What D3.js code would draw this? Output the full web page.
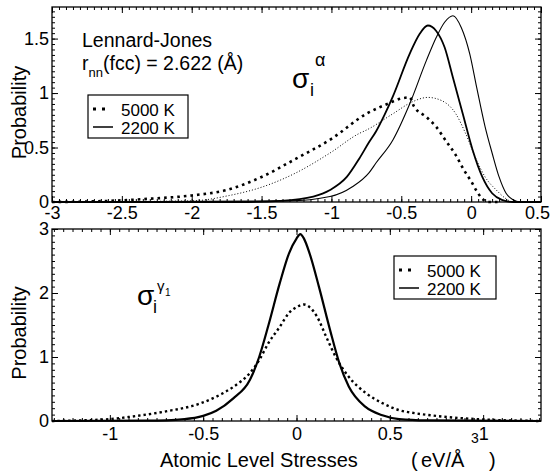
<!DOCTYPE html>
<html>
<head>
<meta charset="utf-8">
<script src="https://cdn.jsdelivr.net/npm/d3@7"></script>
<style>
  body { margin: 0; background: #fff; }
</style>
</head>
<body>
<div id="chart"></div>
<script>
// ---- data ----
// top panel: sigma_i^alpha
const alphaX5000a = [-3, -2.6, -2.3, -2.0, -1.75, -1.5, -1.25, -1.0, -0.75, -0.6, -0.5, -0.44, -0.41, -0.32, -0.25, -0.18, -0.11, -0.05, 0.0, 0.04, 0.08, 0.12, 0.2];
const alphaY5000a = [0, 0.01, 0.03, 0.06, 0.11, 0.23, 0.40, 0.58, 0.81, 0.90, 0.95, 0.96, 0.88, 0.78, 0.69, 0.56, 0.43, 0.29, 0.19, 0.10, 0.03, 0, 0];
const alphaX5000b = [-3, -2.0, -1.73, -1.49, -1.25, -1.01, -0.8, -0.75, -0.56, -0.42, -0.31, -0.21, -0.11, -0.04, 0.03, 0.10, 0.18, 0.25, 0.3, 0.5];
const alphaY5000b = [0, 0.01, 0.06, 0.14, 0.27, 0.45, 0.63, 0.66, 0.81, 0.92, 0.96, 0.93, 0.81, 0.63, 0.41, 0.23, 0.11, 0.03, 0, 0];
const alphaX2200a = [-3, -1.6, -1.37, -1.13, -1.01, -0.89, -0.8, -0.73, -0.68, -0.62, -0.56, -0.44, -0.37, -0.31, -0.25, -0.19, -0.13, -0.06, 0.01, 0.08, 0.15, 0.22, 0.3, 0.5];
const alphaY2200a = [0, 0, 0.01, 0.05, 0.11, 0.23, 0.40, 0.55, 0.65, 0.80, 0.97, 1.36, 1.54, 1.62, 1.57, 1.42, 1.14, 0.81, 0.48, 0.23, 0.08, 0.02, 0, 0];
const alphaX2200b = [-3, -1.3, -1.01, -0.85, -0.73, -0.68, -0.56, -0.44, -0.32, -0.25, -0.19, -0.13, -0.07, -0.01, 0.04, 0.10, 0.15, 0.20, 0.25, 0.30, 0.35, 0.5];
const alphaY2200b = [0, 0.01, 0.05, 0.14, 0.27, 0.36, 0.57, 0.9, 1.30, 1.51, 1.65, 1.71, 1.60, 1.36, 1.05, 0.69, 0.45, 0.23, 0.08, 0.02, 0, 0];

// bottom panel: sigma_i^gamma1
const gammaX5000 = [-1.31, -1.0, -0.88, -0.7, -0.52, -0.43, -0.34, -0.25, -0.2, -0.15, -0.09, -0.04, 0.0, 0.04, 0.07, 0.11, 0.16, 0.21, 0.28, 0.37, 0.46, 0.55, 0.64, 0.78, 0.96, 1.31];
const gammaY5000 = [0, 0.03, 0.07, 0.15, 0.27, 0.38, 0.53, 0.75, 0.95, 1.22, 1.47, 1.69, 1.78, 1.82, 1.78, 1.63, 1.31, 1.0, 0.69, 0.44, 0.28, 0.17, 0.12, 0.07, 0.03, 0];
const gammaX2200 = [-1.31, -0.8, -0.6, -0.5, -0.43, -0.34, -0.25, -0.2, -0.15, -0.09, -0.04, 0.0, 0.02, 0.04, 0.07, 0.12, 0.18, 0.23, 0.28, 0.37, 0.46, 0.55, 0.7, 1.31];
const gammaY2200 = [0, 0.005, 0.03, 0.08, 0.16, 0.35, 0.64, 1.0, 1.5, 2.15, 2.62, 2.85, 2.92, 2.85, 2.62, 2.1, 1.42, 0.9, 0.54, 0.22, 0.09, 0.03, 0.01, 0];

// ticks
const alphaXTicks = [-3, -2.5, -2, -1.5, -1, -0.5, 0, 0.5];
const alphaYTicks = [0, 0.5, 1, 1.5];
const gammaXTicks = [-1, -0.5, 0, 0.5, 1];
const gammaYTicks = [0, 1, 2, 3];
const legendLabels = ["5000 K", "2200 K"];

const FONT = '"Liberation Sans", Arial, sans-serif';
const W = 552, H = 472;
const svg = d3.select("#chart").append("svg")
    .attr("width", W).attr("height", H)
    .style("font-family", FONT);

const zip = (xs, ys) => xs.map((x, i) => [x, ys[i]]);

function minorTicks(domain, step) {
    const out = [];
    const n0 = Math.ceil(domain[0] / step - 1e-9), n1 = Math.floor(domain[1] / step + 1e-9);
    for (let n = n0; n <= n1; n++) out.push(+(n * step).toFixed(4));
    return out;
}

function panel(p) {
    const g = svg.append("g");
    const x = d3.scaleLinear().domain(p.xDomain).range([p.left, p.right]);
    const y = d3.scaleLinear().domain(p.yDomain).range([p.bottom, p.top]);
    const fmt = d => String(d);

    // minor ticks on all four sides
    const xm = minorTicks(p.xDomain, p.xMinor), ym = minorTicks(p.yDomain, p.yMinor);
    g.append("g").attr("transform", `translate(0,${p.bottom})`)
        .call(d3.axisBottom(x).tickValues(xm).tickSize(-3).tickFormat(""));
    g.append("g").attr("transform", `translate(0,${p.top})`)
        .call(d3.axisTop(x).tickValues(xm).tickSize(-3).tickFormat(""));
    g.append("g").attr("transform", `translate(${p.left},0)`)
        .call(d3.axisLeft(y).tickValues(ym).tickSize(-3).tickFormat(""));
    g.append("g").attr("transform", `translate(${p.right},0)`)
        .call(d3.axisRight(y).tickValues(ym).tickSize(-3).tickFormat(""));

    // major ticks
    const xAx = g.append("g").attr("class", "lab").attr("transform", `translate(0,${p.bottom})`)
        .call(d3.axisBottom(x).tickValues(p.xTicks).tickSize(-6).tickPadding(p.xPad).tickFormat(fmt));
    g.append("g").attr("transform", `translate(0,${p.top})`)
        .call(d3.axisTop(x).tickValues(p.xTicks).tickSize(-6).tickFormat(""));
    g.append("g").attr("class", "lab").attr("transform", `translate(${p.left},0)`)
        .call(d3.axisLeft(y).tickValues(p.yTicks).tickSize(-6).tickPadding(3).tickFormat(fmt));
    g.append("g").attr("transform", `translate(${p.right},0)`)
        .call(d3.axisRight(y).tickValues(p.yTicks).tickSize(-6).tickFormat(""));

    g.selectAll(".domain").remove();
    g.selectAll(".tick line").attr("stroke", "#000").attr("stroke-width", 1);
    g.selectAll(".lab text").attr("font-size", 18).attr("fill", "#000");
    // last x label sits at the window edge: pull it in a little
    xAx.selectAll(".tick text").filter(d => d === p.xDomain[1]).attr("dx", -4);

    // curves
    const line = d3.line().x(d => x(d[0])).y(d => y(d[1])).curve(d3.curveMonotoneX);
    p.series.forEach(s => {
        g.append("path")
            .datum(zip(s.x, s.y))
            .attr("d", line)
            .attr("fill", "none")
            .attr("stroke", "#000")
            .attr("stroke-width", s.w)
            .attr("stroke-dasharray", s.dash || null);
    });

    // frame
    g.append("rect")
        .attr("x", p.left).attr("y", p.top)
        .attr("width", p.right - p.left).attr("height", p.bottom - p.top)
        .attr("fill", "none").attr("stroke", "#000").attr("stroke-width", 1.3);

    // y label
    g.append("text")
        .attr("transform", `translate(26,${(p.top + p.bottom) / 2 + 8}) rotate(-90)`)
        .attr("text-anchor", "middle").attr("font-size", 20)
        .text("Probability");

    // legend
    const L = p.legend;
    g.append("rect").attr("x", L.x).attr("y", L.y).attr("width", L.w).attr("height", L.h)
        .attr("fill", "#fff").attr("stroke", "#000").attr("stroke-width", 1.2);
    g.append("line").attr("x1", L.x + 5).attr("x2", L.x + 22)
        .attr("y1", L.y + 14).attr("y2", L.y + 14)
        .attr("stroke", "#000").attr("stroke-width", 3).attr("stroke-dasharray", "3,6");
    g.append("line").attr("x1", L.x + 5).attr("x2", L.x + 25)
        .attr("y1", L.y + 32).attr("y2", L.y + 32)
        .attr("stroke", "#000").attr("stroke-width", 1.5);
    legendLabels.forEach((t, i) => {
        g.append("text").attr("x", L.x + 33).attr("y", L.y + 21 + i * 18)
            .attr("font-size", 17).text(t);
    });
    return g;
}

// top panel
panel({
    left: 52, right: 541, top: 7, bottom: 202,
    xDomain: [-3, 0.5], yDomain: [0, 1.79],
    xTicks: alphaXTicks, yTicks: alphaYTicks, xMinor: 0.05, yMinor: 0.05, xPad: 4,
    legend: { x: 88, y: 95, w: 100, h: 43 },
    series: [
        { x: alphaX5000b, y: alphaY5000b, w: 1, dash: "1,2" },
        { x: alphaX5000a, y: alphaY5000a, w: 2.6, dash: "2.6,4" },
        { x: alphaX2200b, y: alphaY2200b, w: 1.1 },
        { x: alphaX2200a, y: alphaY2200a, w: 1.8 }
    ]
});

// bottom panel
panel({
    left: 52, right: 541, top: 229, bottom: 421,
    xDomain: [-1.31, 1.31], yDomain: [0, 3],
    xTicks: gammaXTicks, yTicks: gammaYTicks, xMinor: 0.05, yMinor: 0.1, xPad: 6,
    legend: { x: 394, y: 256, w: 102, h: 43 },
    series: [
        { x: gammaX5000, y: gammaY5000, w: 2.4, dash: "2.4,3" },
        { x: gammaX2200, y: gammaY2200, w: 2.2 }
    ]
});

// annotations
svg.append("text").attr("x", 82).attr("y", 47).attr("font-size", 19.5).text("Lennard-Jones");
const rnn = svg.append("text").attr("x", 82).attr("y", 70).attr("font-size", 19.5);
rnn.append("tspan").text("r");
rnn.append("tspan").attr("font-size", 13).attr("dy", 7).text("nn");
rnn.append("tspan").attr("dy", -7).text("(fcc) = 2.622 (Å)");

// sigma labels
svg.append("text").attr("x", 292).attr("y", 88).attr("font-size", 28).text("σ");
svg.append("text").attr("x", 310).attr("y", 96).attr("font-size", 18).text("i");
svg.append("text").attr("x", 315).attr("y", 66).attr("font-size", 18).text("α");

svg.append("text").attr("x", 137).attr("y", 305).attr("font-size", 28).text("σ");
svg.append("text").attr("x", 153).attr("y", 313).attr("font-size", 18).text("i");
svg.append("text").attr("x", 157).attr("y", 291).attr("font-size", 15).text("γ");
svg.append("text").attr("x", 165).attr("y", 296).attr("font-size", 10).text("1");

// x label
const xl = svg.append("text").attr("y", 467).attr("font-size", 20);
xl.append("tspan").attr("x", 160).text("Atomic Level Stresses");
xl.append("tspan").attr("x", 411).text("(");
xl.append("tspan").attr("x", 421).text("eV/Å");
xl.append("tspan").attr("x", 471).attr("y", 443).attr("font-size", 14).text("3");
xl.append("tspan").attr("x", 489).attr("y", 467).text(")");

// every text in one face (axis groups set their own font otherwise)
svg.selectAll("text").style("font-family", FONT).attr("fill", "#000");
</script>
</body>
</html>
